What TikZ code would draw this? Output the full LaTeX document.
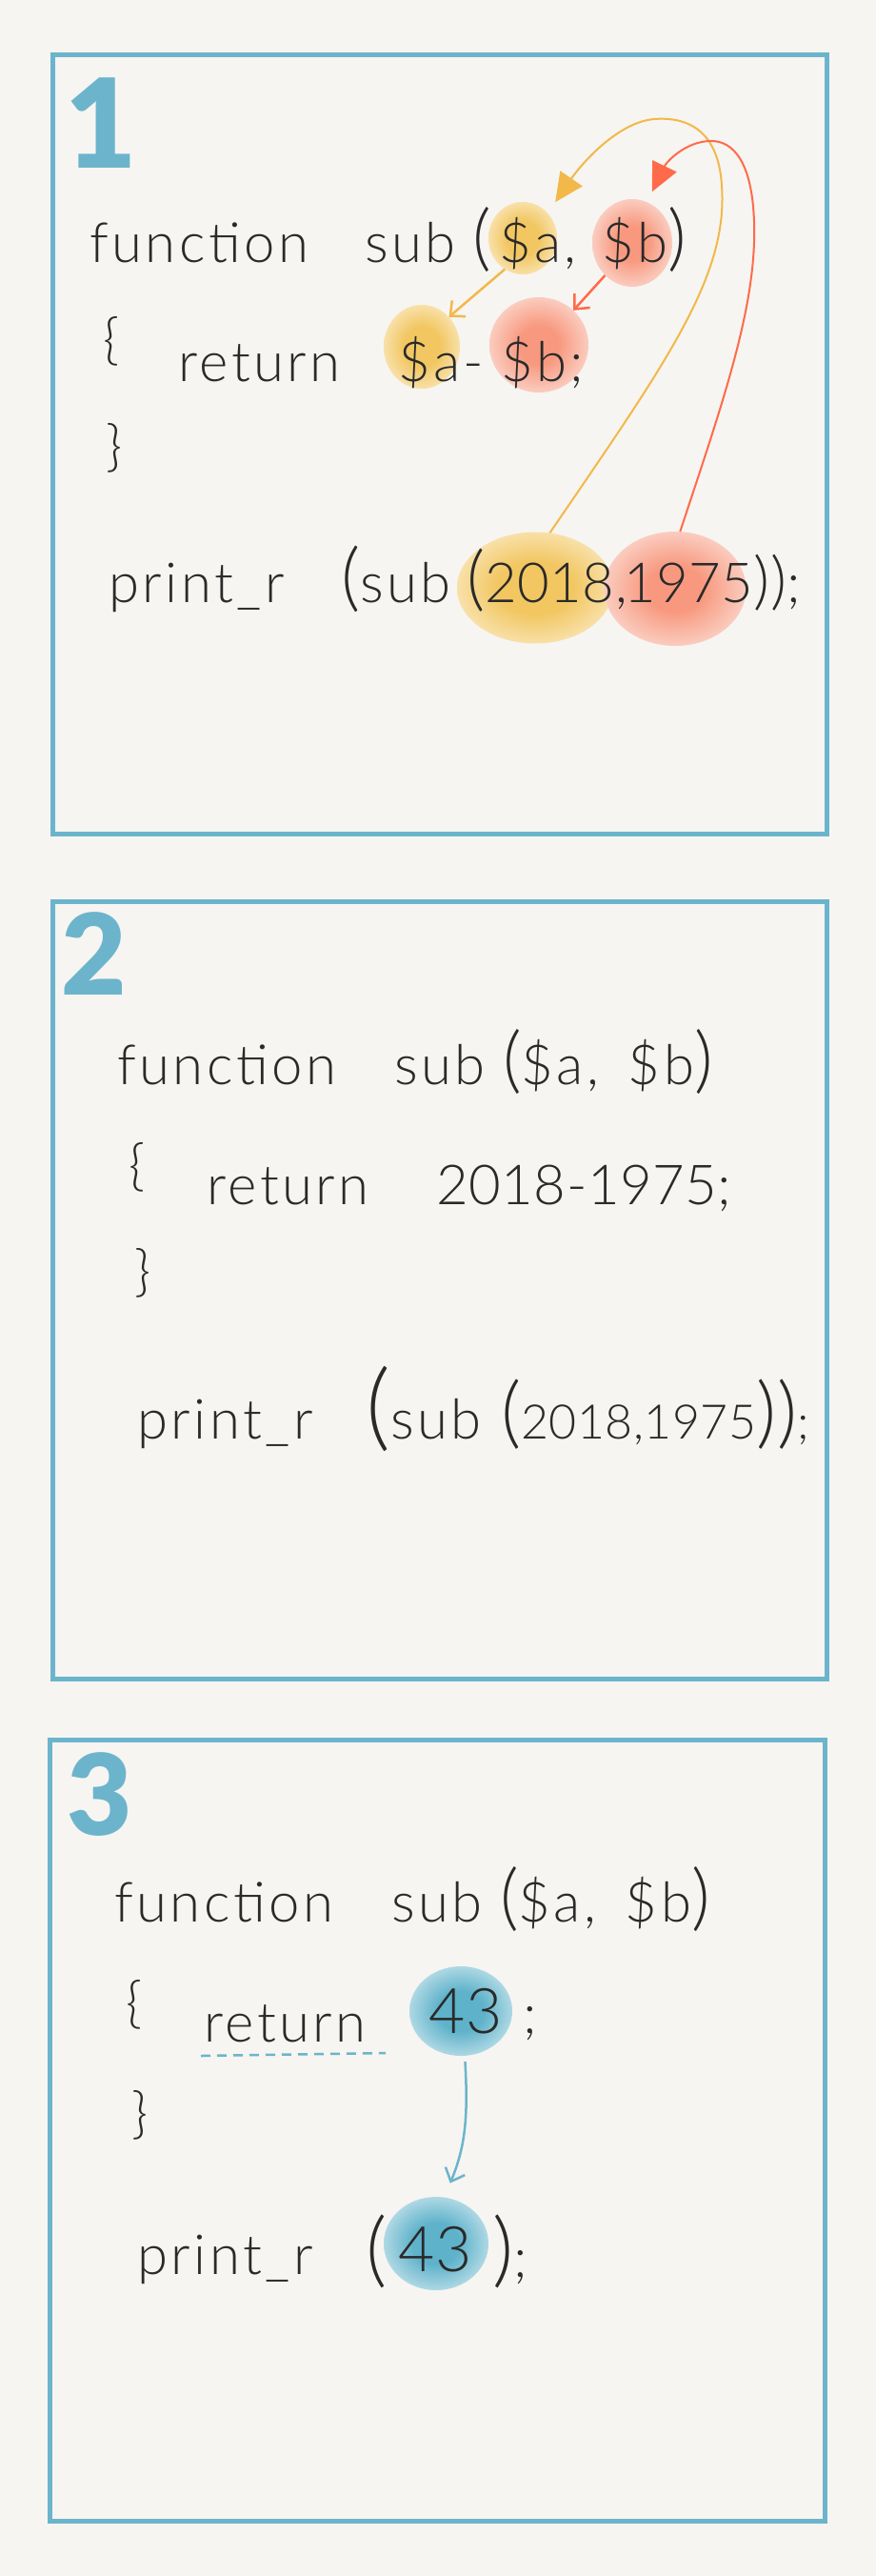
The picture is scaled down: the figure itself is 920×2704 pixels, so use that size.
\documentclass[tikz,border=0pt]{standalone}
\usepackage{fontspec}
\setmainfont{Lato Light}[LetterSpace=6, WordSpace=1.6]
\newfontfamily\digitfont{Lato Light}[LetterSpace=1]
\newfontfamily\numfont{Lato Black}
\usepackage{tikz}
\usetikzlibrary{arrows.meta, shapes.geometric}
\definecolor{paper}{HTML}{F6F5F1}
\definecolor{frameblue}{HTML}{6CB4CC}
\definecolor{ink}{HTML}{2A2A2A}
\definecolor{yellowIn}{HTML}{F2C762}
\definecolor{yellowOut}{HTML}{F8E0A8}
\definecolor{redIn}{HTML}{F8997F}
\definecolor{redOut}{HTML}{FACCBF}
\definecolor{blueIn}{HTML}{5EB2CA}
\definecolor{blueOut}{HTML}{AED8E4}
\definecolor{yellowArrow}{HTML}{F2B84A}
\definecolor{redArrow}{HTML}{FF6A4A}
\pgfdeclareradialshading{blobY}{\pgfpoint{0bp}{0bp}}{color(0bp)=(yellowIn); color(12bp)=(yellowIn); color(25bp)=(yellowOut); color(50bp)=(yellowOut)}
\pgfdeclareradialshading{blobR}{\pgfpoint{0bp}{0bp}}{color(0bp)=(redIn); color(10bp)=(redIn); color(25bp)=(redOut); color(50bp)=(redOut)}
\pgfdeclareradialshading{blobB}{\pgfpoint{0bp}{0bp}}{color(0bp)=(blueIn); color(11bp)=(blueIn); color(25bp)=(blueOut); color(50bp)=(blueOut)}
\newcommand\handparen[2]{{\fontsize{#1}{#1}\selectfont #2}}
\tikzset{
  panel/.style={draw=frameblue, line width=5pt},
  stepnum/.style={font=\numfont\fontsize{118}{118}\selectfont, text=frameblue, anchor=base west, inner sep=0pt},
  code/.style={font=\fontsize{58}{60}\selectfont, text=ink, anchor=base west, inner sep=0pt},
  digits/.style={code, font=\digitfont\fontsize{58}{60}\selectfont},
  yblob/.style={ellipse, shade, shading=blobY, inner sep=0pt},
  rblob/.style={ellipse, shade, shading=blobR, inner sep=0pt},
  bblob/.style={ellipse, shade, shading=blobB, inner sep=0pt},
  bigarrow/.style={-{Triangle[length=30pt, width=28pt]}, line width=2pt},
  smallarrow/.style={-{Straight Barb[length=12pt, width=22pt]}, line width=2.5pt},
  dashline/.style={draw=frameblue, line width=2.5pt, dash pattern=on 10pt off 7pt}
}
\begin{document}
\begin{tikzpicture}[x=1pt, y=-1pt]
  \fill[paper] (0,0) rectangle (920,2704);
  \useasboundingbox (0,0) rectangle (920,2704);

  % panel 1
  \draw[panel] (55,57) rectangle (868,875);
  \node[stepnum, font=\numfont\fontsize{130}{130}\selectfont] (n1) at (68,176) {1};
  \node[yblob, minimum width=72, minimum height=76] (sa1) at (549,250) {};
  \node[rblob, minimum width=84, minimum height=92] (sb1) at (664,255) {};
  \node[yblob, minimum width=80, minimum height=88] (ra1) at (443,364) {};
  \node[rblob, minimum width=104, minimum height=100] (rb1) at (566,362) {};
  \node[yblob, minimum width=164, minimum height=117] (y2018) at (562,617) {};
  \node[rblob, minimum width=149, minimum height=120] (r1975) at (709,618) {};

  \node[code] (f1) at (94,275) {function};
  \node[code] (s1) at (383,275) {sub};
  \node[code] (lp1) at (496,275) {\handparen{76}{(}};
  \node[code] (fa1) at (524,275) {\$a,};
  \node[code] (fb1) at (632,275) {\$b\handparen{76}{)}};
  \node[code] (ob1) at (108,376) {\{};
  \node[code] (ret1) at (187,400) {return};
  \node[code] (ra1t) at (418,400) {\$a-};
  \node[code] (rb1t) at (526,400) {\$b;};
  \node[code] (cb1) at (111,488) {\}};
  \node[code] (pr1) at (114,632) {print\_r};
  \node[code] (ps1) at (358,632) {\handparen{78}{(}sub};
  \node[digits] (pa1) at (490,632) {\handparen{74}{(}2018,};
  \node[digits] (pn1) at (655,632) {1975\handparen{66}{))};};

  \draw[smallarrow, yellowArrow] (sa1.240) -- (ra1.north east);
  \draw[smallarrow, redArrow] (sb1.230) -- (rb1.45);
  \draw[bigarrow, yellowArrow, shorten >=14pt] (y2018.75)
    .. controls (700,380) and (765,290) .. (758,195)
    .. controls (755,140) and (725,122) .. (687,125)
    .. controls (650,128) and (612,170) .. (sa1.45);
  \draw[bigarrow, redArrow, shorten >=12pt] (r1975.85)
    .. controls (760,420) and (795,320) .. (792,233)
    .. controls (790,170) and (770,148) .. (747,148)
    .. controls (720,148) and (700,170) .. (sb1.70);

  % panel 2
  \draw[panel] (55,946) rectangle (868,1762);
  \node[stepnum] (n2) at (64,1044) {2};
  \node[code] (f2) at (123,1138) {function};
  \node[code] (s2) at (414,1138) {sub};
  \node[code] (fp2) at (528,1138) {\handparen{76}{(}\$a, \$b\handparen{76}{)}};
  \node[code] (ob2) at (135,1243) {\{};
  \node[code] (ret2) at (217,1264) {return};
  \node[digits] (sub2) at (458,1264) {2018-1975;};
  \node[code] (cb2) at (141,1354) {\}};
  \node[code] (pr2) at (144,1510) {print\_r};
  \node[code] (ps2) at (384,1510) {\handparen{100}{(}sub};
  \node[digits, font=\digitfont\fontsize{50}{52}\selectfont] (pa2) at (526,1510) {\handparen{82}{(}2018,1975\handparen{82}{))};};

  % panel 3
  \draw[panel] (52,1826) rectangle (866,2646);
  \node[stepnum] (n3) at (70,1926) {3};
  \node[code] (f3) at (120,2017) {function};
  \node[code] (s3) at (411,2017) {sub};
  \node[code] (fp3) at (525,2017) {\handparen{76}{(}\$a, \$b\handparen{76}{)}};
  \node[code] (ob3) at (132,2122) {\{};
  \node[code] (ret3) at (214,2143) {return};
  \node[bblob, minimum width=108, minimum height=94] (v3) at (484,2111) {};
  \node[digits, font=\digitfont\fontsize{66}{68}\selectfont] (n43a) at (450,2134) {43};
  \node[code] (sc3) at (549,2134) {;};
  \node[code] (cb3) at (138,2238) {\}};
  \node[code] (pr3) at (144,2387) {print\_r};
  \node[code] (lp3) at (384,2390) {\handparen{86}{(}};
  \node[bblob, minimum width=110, minimum height=98] (v4) at (458,2355) {};
  \node[digits, font=\digitfont\fontsize{66}{68}\selectfont] (n43b) at (418,2384) {43};
  \node[code] (rp3) at (517,2390) {\handparen{86}{)};};

  \draw[dashline] (211,2158) -- (405,2155);
  \draw[smallarrow, frameblue, shorten <=6pt, shorten >=16pt] (v3.275)
    .. controls (492,2225) and (488,2255) .. (v4.80);
\end{tikzpicture}
\end{document}
